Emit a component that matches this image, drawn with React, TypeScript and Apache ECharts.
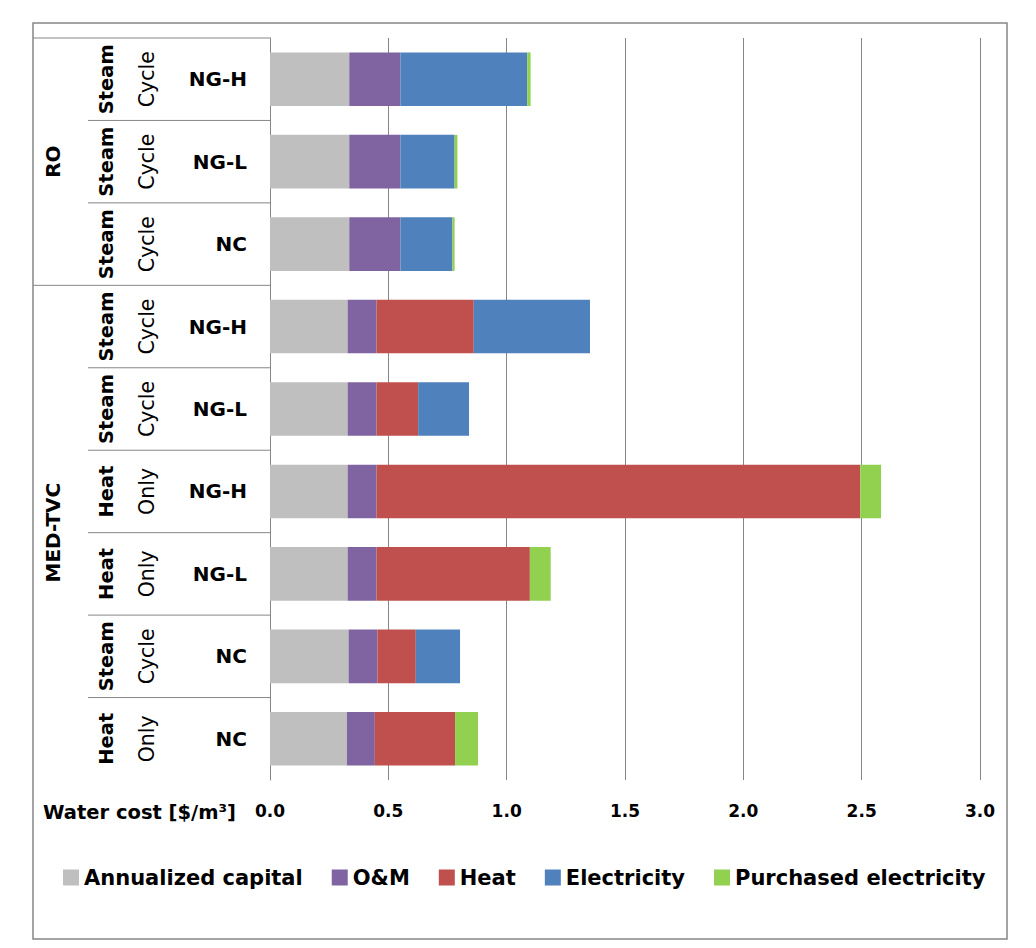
import React, { useEffect, useRef } from "react";
import * as echarts from "echarts";

const groups = ["RO", "RO", "RO", "MED-TVC", "MED-TVC", "MED-TVC", "MED-TVC", "MED-TVC", "MED-TVC"];
const modes = [
  ["Steam", "Cycle"], ["Steam", "Cycle"], ["Steam", "Cycle"],
  ["Steam", "Cycle"], ["Steam", "Cycle"], ["Heat", "Only"], ["Heat", "Only"], ["Steam", "Cycle"], ["Heat", "Only"],
];
const fuels = ["NG-H", "NG-L", "NC", "NG-H", "NG-L", "NG-H", "NG-L", "NC", "NC"];

const capital = [0.335, 0.335, 0.335, 0.328, 0.328, 0.328, 0.328, 0.332, 0.325];
const om = [0.216, 0.216, 0.216, 0.122, 0.122, 0.122, 0.122, 0.122, 0.118];
const heat = [0, 0, 0, 0.411, 0.176, 2.044, 0.648, 0.162, 0.339];
const electricity = [0.536, 0.229, 0.22, 0.491, 0.215, 0, 0, 0.187, 0];
const purchased = [0.014, 0.012, 0.009, 0, 0, 0.088, 0.088, 0, 0.097];

const seriesNames = ["Annualized capital", "O&M", "Heat", "Electricity", "Purchased electricity"];
const seriesData = [capital, om, heat, electricity, purchased];
const colors = ["#BFBFBF", "#8064A2", "#C0504D", "#4F81BD", "#92D050"];

const xTicks = { min: 0, max: 3, interval: 0.5 };
const xTitle = "Water cost [$/m³]";

const FONT = "'DejaVu Sans', 'Noto Sans', sans-serif";
const LINE = "#868686";

export default function App() {
  const ref = useRef<HTMLDivElement>(null);
  useEffect(() => {
    if (!ref.current) return;
    const chart = echarts.init(ref.current, null, { renderer: "svg" });
    const gridLeft = 270, gridTop = 38, gridRight = 56, gridBottom = 168;
    chart.setOption({
      animation: false,
      backgroundColor: "#fff",
      color: colors,
      grid: { left: gridLeft, right: gridRight, top: gridTop, bottom: gridBottom, containLabel: false },
      xAxis: {
        type: "value",
        min: xTicks.min,
        max: xTicks.max,
        interval: xTicks.interval,
        axisLine: { show: false },
        axisTick: { show: false },
        splitLine: { show: true, lineStyle: { color: LINE, width: 1 } },
        axisLabel: {
          formatter: (v: number) => v.toFixed(1),
          fontFamily: FONT,
          fontSize: 17,
          fontWeight: "bold",
          color: "#000",
          margin: 22,
        },
      },
      yAxis: {
        type: "category",
        inverse: true,
        data: fuels,
        axisLine: { show: true, lineStyle: { color: LINE, width: 1 } },
        axisTick: { show: false },
        axisLabel: {
          fontFamily: FONT,
          fontSize: 20,
          fontWeight: "bold",
          color: "#000",
          margin: 23,
        },
      },
      legend: {
        left: 58,
        top: 862,
        itemWidth: 16,
        itemHeight: 16,
        itemGap: 29,
        icon: "rect",
        data: seriesNames,
        textStyle: { fontFamily: FONT, fontSize: 21, fontWeight: "bold", color: "#000" },
      },
      series: seriesNames.map((name, i) => ({
        name,
        type: "bar",
        stack: "total",
        barCategoryGap: "35%",
        data: seriesData[i],
        itemStyle: { color: colors[i] },
      })),
    });

    const n = fuels.length;
    const c0 = chart.convertToPixel({ yAxisIndex: 0 }, 0) as number;
    const c1 = chart.convertToPixel({ yAxisIndex: 0 }, 1) as number;
    const band = c1 - c0;
    const centers = fuels.map((_, i) => chart.convertToPixel({ yAxisIndex: 0 }, i) as number);
    const x0 = chart.convertToPixel({ xAxisIndex: 0 }, 0) as number;
    const top = centers[0] - band / 2;
    const bottom = centers[n - 1] + band / 2;
    const frameL = 33;
    const elements: any[] = [];
    elements.push({
      type: "rect",
      shape: { x: frameL, y: 23, width: 974, height: 916 },
      style: { fill: "none", stroke: LINE, lineWidth: 1.5 },
      silent: true,
    });
    elements.push({
      type: "line",
      shape: { x1: frameL, y1: top, x2: x0, y2: top },
      style: { stroke: LINE, lineWidth: 1 },
    });
    for (let i = 1; i < n; i++) {
      const y = centers[i] - band / 2;
      const groupChange = groups[i] !== groups[i - 1];
      elements.push({
        type: "line",
        shape: { x1: groupChange ? frameL : 88, y1: y, x2: x0, y2: y },
        style: { stroke: LINE, lineWidth: 1 },
      });
    }
    for (let i = 0; i < n; i++) {
      elements.push({
        type: "text",
        x: 106,
        y: centers[i],
        rotation: Math.PI / 2,
        style: {
          text: modes[i][0],
          fontFamily: FONT,
          fontSize: 19.5,
          fontWeight: "bold",
          fill: "#000",
          align: "center",
          verticalAlign: "middle",
        },
      });
      elements.push({
        type: "text",
        x: 147,
        y: centers[i],
        rotation: Math.PI / 2,
        style: {
          text: modes[i][1],
          fontFamily: FONT,
          fontSize: 20.5,
          fontWeight: "normal",
          fill: "#000",
          align: "center",
          verticalAlign: "middle",
        },
      });
    }
    const uniq: string[] = [];
    groups.forEach((g) => { if (!uniq.includes(g)) uniq.push(g); });
    uniq.forEach((g) => {
      const idx = groups.map((gg, i) => (gg === g ? i : -1)).filter((i) => i >= 0);
      const yMid = (centers[idx[0]] + centers[idx[idx.length - 1]]) / 2;
      elements.push({
        type: "text",
        x: 53,
        y: yMid,
        rotation: Math.PI / 2,
        style: {
          text: g,
          fontFamily: FONT,
          fontSize: 20,
          fontWeight: "bold",
          fill: "#000",
          align: "center",
          verticalAlign: "middle",
        },
      });
    });
    elements.push({
      type: "text",
      x: 236,
      y: bottom + 32,
      style: {
        text: xTitle,
        fontFamily: FONT,
        fontSize: 19.5,
        fontWeight: "bold",
        fill: "#000",
        align: "right",
        verticalAlign: "middle",
      },
    });
    chart.setOption({ graphic: { elements } });
    return () => chart.dispose();
  }, []);
  return (
    <div
      ref={ref}
      style={{ position: "absolute", left: 0, top: 0, width: 1036, height: 948, background: "#fff" }}
    />
  );
}
